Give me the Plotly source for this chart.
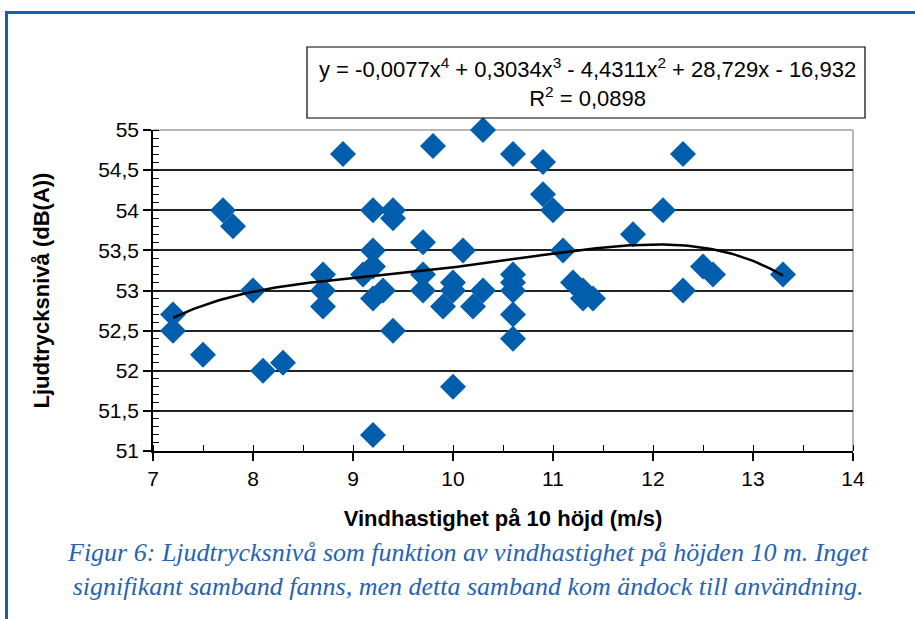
import numpy as np
import plotly.graph_objects as go

# Data (wind speed m/s, sound level dB(A))
wind_speed = [7.2, 7.2, 7.5, 7.7, 7.8, 8.0, 8.1, 8.3, 8.7, 8.7, 8.7, 8.9, 9.1,
              9.2, 9.2, 9.2, 9.2, 9.2, 9.3, 9.4, 9.4, 9.4, 9.7, 9.7, 9.7, 9.8,
              9.9, 10.0, 10.0, 10.0, 10.1, 10.2, 10.3, 10.3, 10.6, 10.6, 10.6,
              10.6, 10.6, 10.6, 10.9, 10.9, 11.0, 11.1, 11.2, 11.3, 11.3, 11.4,
              11.8, 12.1, 12.3, 12.3, 12.5, 12.6, 13.3]
sound_level = [52.7, 52.5, 52.2, 54.0, 53.8, 53.0, 52.0, 52.1, 53.2, 53.0, 52.8,
               54.7, 53.2, 54.0, 53.5, 53.3, 52.9, 51.2, 53.0, 54.0, 53.9, 52.5,
               53.6, 53.2, 53.0, 54.8, 52.8, 53.1, 53.0, 51.8, 53.5, 52.8, 55.0,
               53.0, 54.7, 53.2, 53.1, 53.0, 52.7, 52.4, 54.6, 54.2, 54.0, 53.5,
               53.1, 53.0, 52.9, 52.9, 53.7, 54.0, 54.7, 53.0, 53.3, 53.2, 53.2]

x_ticks = [7, 8, 9, 10, 11, 12, 13, 14]
y_ticks = [51, 51.5, 52, 52.5, 53, 53.5, 54, 54.5, 55]

eq_text = ("y = -0,0077x<sup>4</sup> + 0,3034x<sup>3</sup> - 4,4311x<sup>2</sup>"
           " + 28,729x - 16,932<br>R<sup>2</sup> = 0,0898")
caption = ("Figur 6: Ljudtrycksnivå som funktion av vindhastighet på höjden 10 m. Inget<br>"
           "signifikant samband fanns, men detta samband kom ändock till användning.")

# 4th-degree polynomial trendline fitted to the data
coef = np.polyfit(wind_speed, sound_level, 4)
xs = np.linspace(min(wind_speed), max(wind_speed), 200)
ys = np.polyval(coef, xs)

FONT = "Liberation Sans Narrow, Arial Narrow, Liberation Sans, Arial, sans-serif"
BLUE = "#005EAC"

fig = go.Figure()
fig.add_trace(go.Scatter(x=wind_speed, y=sound_level, mode="markers",
                         marker=dict(symbol="diamond", size=20, color=BLUE,
                                     line=dict(width=0)),
                         cliponaxis=False, showlegend=False))
fig.add_trace(go.Scatter(x=xs, y=ys, mode="lines",
                         line=dict(color="black", width=2.5),
                         showlegend=False))

L, R, T, B = 153, 62, 130, 168
W, H = 915, 619
pw, ph = W - L - R, H - T - B

def px(xp):
    return (xp - L) / pw

def py(yp):
    return (H - B - yp) / ph

fig.update_layout(
    width=W, height=H,
    margin=dict(l=L, r=R, t=T, b=B, autoexpand=False),
    paper_bgcolor="white", plot_bgcolor="white",
    separators=", ",
    font=dict(family=FONT, size=21, color="black"),
    xaxis=dict(range=[7, 14], tickvals=x_ticks, showgrid=False, zeroline=False,
               showline=True, linecolor="black", linewidth=1.5,
               ticks="outside", ticklen=8, tickwidth=1.5, tickcolor="black",
               minor=dict(dtick=0.5, ticks="inside", ticklen=6, tickwidth=1.2,
                          tickcolor="black", showgrid=False),
               tickfont=dict(family=FONT, size=21),
               title=dict(text="<b>Vindhastighet på 10 höjd (m/s)</b>",
                          font=dict(family=FONT, size=22), standoff=22)),
    yaxis=dict(range=[51, 55], tickvals=y_ticks, showgrid=True,
               gridcolor="#222222", gridwidth=1.5, zeroline=False,
               showline=True, linecolor="black", linewidth=1.5,
               ticks="outside", ticklen=8, tickwidth=1.5, tickcolor="black",
               minor=dict(dtick=0.1, ticks="inside", ticklen=6, tickwidth=1.2,
                          tickcolor="black", showgrid=False),
               tickfont=dict(family=FONT, size=21),
               title=dict(text="<b>Ljudtrycksnivå (dB(A))</b>",
                          font=dict(family=FONT, size=22), standoff=42)),
    shapes=[
        # gray plot border top/right
        dict(type="line", xref="paper", yref="paper", x0=0, x1=1, y0=1, y1=1,
             line=dict(color="#A0A0A0", width=1.5), layer="between"),
        dict(type="line", xref="paper", yref="paper", x0=1, x1=1, y0=0, y1=1,
             line=dict(color="#A0A0A0", width=1.5), layer="between"),
        # equation box
        dict(type="rect", xref="paper", yref="paper",
             x0=px(307), x1=px(865), y0=py(118), y1=py(47),
             line=dict(color="black", width=1.2), fillcolor="white"),
        # blue frame
        dict(type="line", xref="paper", yref="paper", x0=px(6), x1=px(915),
             y0=py(12.5), y1=py(12.5), line=dict(color="#1760B2", width=3)),
        dict(type="line", xref="paper", yref="paper", x0=px(6.5), x1=px(6.5),
             y0=py(11), y1=py(619), line=dict(color="#1760B2", width=3)),
    ],
    annotations=[
        dict(text=eq_text, xref="paper", yref="paper", x=px(587), y=py(82),
             xanchor="center", yanchor="middle", showarrow=False, align="center",
             font=dict(family=FONT, size=22, color="black")),
        dict(text=caption, xref="paper", yref="paper", x=px(468), y=py(569),
             xanchor="center", yanchor="middle", showarrow=False, align="center",
             font=dict(family="Liberation Serif, Times New Roman, serif",
                       size=26, color="#2563B5", style="italic")),
    ],
)

fig.write_html("out.html")
